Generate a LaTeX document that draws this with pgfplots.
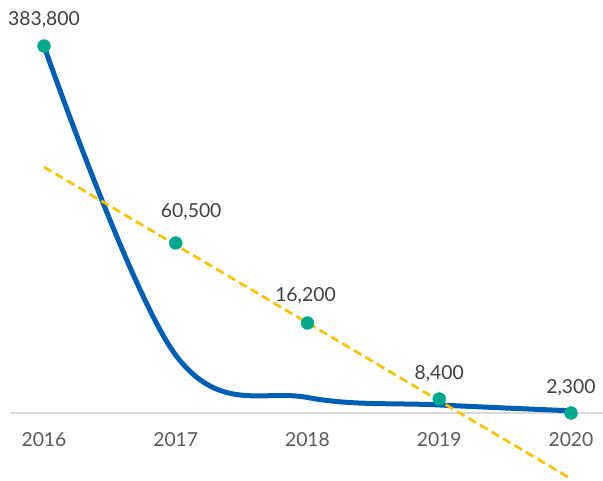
\documentclass[border=0pt]{standalone}
\usepackage{pgfplots}
\pgfplotsset{compat=1.18}
\usepackage{fontspec}
\setmainfont{Lato}

\definecolor{lineblue}{RGB}{0,94,180}
\definecolor{dotgreen}{RGB}{0,168,142}
\definecolor{trendgold}{RGB}{255,192,0}
\definecolor{axisgray}{RGB}{217,217,217}
\definecolor{ticktext}{RGB}{89,89,89}
\definecolor{labeltext}{RGB}{64,64,64}

% values as reported
\pgfplotstableread{
x y
2016 383800
2017 60500
2018 16200
2019 8400
2020 2300
}\seriesdata

% marker positions as drawn in the chart, label text and label offsets (pt)
\pgfplotstableread{
x y label dx dy
2016 383800 383,800 0 15
2017 177780 60,500 11.6 18.75
2018 94120 16,200 -1.5 15.75
2019 14640 8,400 0 14.25
2020 0 2,300 0 14.25
}\markerdata

% linear trend of the reported values
\pgfplotstableread{
x y
2016 257260
2020 -68780
}\trenddata

\begin{document}
\begin{tikzpicture}
\begin{axis}[
  name=ax,
  scale only axis,
  width=444.75pt,
  height=275.25pt,
  xmin=2015.742, xmax=2020.243,
  ymin=0, ymax=383800,
  clip=false,
  axis y line=none,
  axis x line*=bottom,
  x axis line style={axisgray, line width=1.5pt, -},
  major tick length=0pt,
  xtick={2016,2017,2018,2019,2020},
  xticklabels={2016,2017,2018,2019,2020},
  xticklabel style={font=\fontsize{14.5}{17}\selectfont, text=ticktext, anchor=base, yshift=-25.5pt},
]
\addplot[lineblue, line width=3.75pt, line cap=round, smooth, tension=0.6, no marks] table {\seriesdata};
\addplot[trendgold, line width=2pt, dash pattern=on 6.5pt off 3.5pt, no marks] table {\trenddata};
\addplot[only marks, mark=*, mark size=4.8pt, color=dotgreen,
  visualization depends on={\thisrow{dx} \as \dx},
  visualization depends on={\thisrow{dy} \as \dy},
  point meta=explicit symbolic,
  nodes near coords,
  nodes near coords style={font=\fontsize{14.5}{17}\selectfont, text=labeltext, anchor=base, xshift=\dx pt, yshift=\dy pt},
] table [meta=label] {\markerdata};
\coordinate (bl) at (rel axis cs:-0.01686,-0.1853);
\coordinate (tr) at (rel axis cs:1,1.1253);
\end{axis}
\pgfresetboundingbox
\path (bl) rectangle (tr);
\end{tikzpicture}
\end{document}
